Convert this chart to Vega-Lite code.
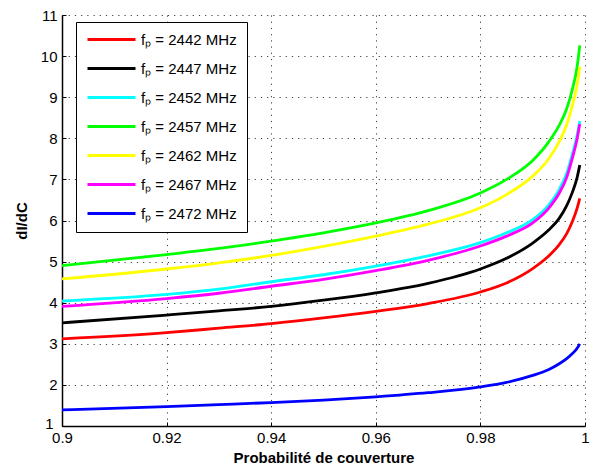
{
  "$schema": "https://vega.github.io/schema/vega-lite/v6.json",
  "width": 523,
  "height": 411,
  "autosize": "none",
  "padding": {"left": 62, "top": 15, "right": 10, "bottom": 44},
  "background": "white",
  "config": {
    "view": {"stroke": null},
    "font": "Liberation Sans"
  },
  "datasets": {
    "curves": [
      {"p": 0.9, "v": 3.12, "s": "fₚ = 2442 MHz"},
      {"p": 0.92, "v": 3.27, "s": "fₚ = 2442 MHz"},
      {"p": 0.93, "v": 3.38, "s": "fₚ = 2442 MHz"},
      {"p": 0.94, "v": 3.49, "s": "fₚ = 2442 MHz"},
      {"p": 0.95, "v": 3.63, "s": "fₚ = 2442 MHz"},
      {"p": 0.96, "v": 3.79, "s": "fₚ = 2442 MHz"},
      {"p": 0.97, "v": 3.98, "s": "fₚ = 2442 MHz"},
      {"p": 0.98, "v": 4.26, "s": "fₚ = 2442 MHz"},
      {"p": 0.985, "v": 4.48, "s": "fₚ = 2442 MHz"},
      {"p": 0.99, "v": 4.83, "s": "fₚ = 2442 MHz"},
      {"p": 0.993, "v": 5.13, "s": "fₚ = 2442 MHz"},
      {"p": 0.995, "v": 5.40, "s": "fₚ = 2442 MHz"},
      {"p": 0.9965, "v": 5.68, "s": "fₚ = 2442 MHz"},
      {"p": 0.9975, "v": 5.95, "s": "fₚ = 2442 MHz"},
      {"p": 0.9985, "v": 6.30, "s": "fₚ = 2442 MHz"},
      {"p": 0.999, "v": 6.54, "s": "fₚ = 2442 MHz"},

      {"p": 0.9, "v": 3.51, "s": "fₚ = 2447 MHz"},
      {"p": 0.92, "v": 3.70, "s": "fₚ = 2447 MHz"},
      {"p": 0.93, "v": 3.80, "s": "fₚ = 2447 MHz"},
      {"p": 0.94, "v": 3.91, "s": "fₚ = 2447 MHz"},
      {"p": 0.95, "v": 4.06, "s": "fₚ = 2447 MHz"},
      {"p": 0.96, "v": 4.24, "s": "fₚ = 2447 MHz"},
      {"p": 0.97, "v": 4.47, "s": "fₚ = 2447 MHz"},
      {"p": 0.98, "v": 4.82, "s": "fₚ = 2447 MHz"},
      {"p": 0.985, "v": 5.08, "s": "fₚ = 2447 MHz"},
      {"p": 0.99, "v": 5.45, "s": "fₚ = 2447 MHz"},
      {"p": 0.993, "v": 5.76, "s": "fₚ = 2447 MHz"},
      {"p": 0.995, "v": 6.04, "s": "fₚ = 2447 MHz"},
      {"p": 0.9965, "v": 6.36, "s": "fₚ = 2447 MHz"},
      {"p": 0.9975, "v": 6.66, "s": "fₚ = 2447 MHz"},
      {"p": 0.9985, "v": 7.05, "s": "fₚ = 2447 MHz"},
      {"p": 0.999, "v": 7.35, "s": "fₚ = 2447 MHz"},

      {"p": 0.9, "v": 4.04, "s": "fₚ = 2452 MHz"},
      {"p": 0.92, "v": 4.20, "s": "fₚ = 2452 MHz"},
      {"p": 0.93, "v": 4.33, "s": "fₚ = 2452 MHz"},
      {"p": 0.94, "v": 4.51, "s": "fₚ = 2452 MHz"},
      {"p": 0.95, "v": 4.68, "s": "fₚ = 2452 MHz"},
      {"p": 0.96, "v": 4.89, "s": "fₚ = 2452 MHz"},
      {"p": 0.97, "v": 5.14, "s": "fₚ = 2452 MHz"},
      {"p": 0.98, "v": 5.46, "s": "fₚ = 2452 MHz"},
      {"p": 0.985, "v": 5.70, "s": "fₚ = 2452 MHz"},
      {"p": 0.99, "v": 6.02, "s": "fₚ = 2452 MHz"},
      {"p": 0.993, "v": 6.37, "s": "fₚ = 2452 MHz"},
      {"p": 0.995, "v": 6.74, "s": "fₚ = 2452 MHz"},
      {"p": 0.9965, "v": 7.15, "s": "fₚ = 2452 MHz"},
      {"p": 0.9975, "v": 7.58, "s": "fₚ = 2452 MHz"},
      {"p": 0.9985, "v": 8.08, "s": "fₚ = 2452 MHz"},
      {"p": 0.999, "v": 8.42, "s": "fₚ = 2452 MHz"},

      {"p": 0.9, "v": 4.90, "s": "fₚ = 2457 MHz"},
      {"p": 0.92, "v": 5.17, "s": "fₚ = 2457 MHz"},
      {"p": 0.93, "v": 5.32, "s": "fₚ = 2457 MHz"},
      {"p": 0.94, "v": 5.50, "s": "fₚ = 2457 MHz"},
      {"p": 0.95, "v": 5.70, "s": "fₚ = 2457 MHz"},
      {"p": 0.96, "v": 5.94, "s": "fₚ = 2457 MHz"},
      {"p": 0.97, "v": 6.24, "s": "fₚ = 2457 MHz"},
      {"p": 0.98, "v": 6.67, "s": "fₚ = 2457 MHz"},
      {"p": 0.985, "v": 7.00, "s": "fₚ = 2457 MHz"},
      {"p": 0.99, "v": 7.46, "s": "fₚ = 2457 MHz"},
      {"p": 0.993, "v": 7.90, "s": "fₚ = 2457 MHz"},
      {"p": 0.995, "v": 8.30, "s": "fₚ = 2457 MHz"},
      {"p": 0.9965, "v": 8.72, "s": "fₚ = 2457 MHz"},
      {"p": 0.9975, "v": 9.15, "s": "fₚ = 2457 MHz"},
      {"p": 0.9985, "v": 9.75, "s": "fₚ = 2457 MHz"},
      {"p": 0.999, "v": 10.26, "s": "fₚ = 2457 MHz"},

      {"p": 0.9, "v": 4.58, "s": "fₚ = 2462 MHz"},
      {"p": 0.92, "v": 4.82, "s": "fₚ = 2462 MHz"},
      {"p": 0.93, "v": 4.97, "s": "fₚ = 2462 MHz"},
      {"p": 0.94, "v": 5.15, "s": "fₚ = 2462 MHz"},
      {"p": 0.95, "v": 5.37, "s": "fₚ = 2462 MHz"},
      {"p": 0.96, "v": 5.62, "s": "fₚ = 2462 MHz"},
      {"p": 0.97, "v": 5.91, "s": "fₚ = 2462 MHz"},
      {"p": 0.98, "v": 6.31, "s": "fₚ = 2462 MHz"},
      {"p": 0.985, "v": 6.63, "s": "fₚ = 2462 MHz"},
      {"p": 0.99, "v": 7.08, "s": "fₚ = 2462 MHz"},
      {"p": 0.993, "v": 7.49, "s": "fₚ = 2462 MHz"},
      {"p": 0.995, "v": 7.90, "s": "fₚ = 2462 MHz"},
      {"p": 0.9965, "v": 8.33, "s": "fₚ = 2462 MHz"},
      {"p": 0.9975, "v": 8.76, "s": "fₚ = 2462 MHz"},
      {"p": 0.9985, "v": 9.30, "s": "fₚ = 2462 MHz"},
      {"p": 0.999, "v": 9.74, "s": "fₚ = 2462 MHz"},

      {"p": 0.9, "v": 3.91, "s": "fₚ = 2467 MHz"},
      {"p": 0.92, "v": 4.10, "s": "fₚ = 2467 MHz"},
      {"p": 0.93, "v": 4.23, "s": "fₚ = 2467 MHz"},
      {"p": 0.94, "v": 4.40, "s": "fₚ = 2467 MHz"},
      {"p": 0.95, "v": 4.57, "s": "fₚ = 2467 MHz"},
      {"p": 0.96, "v": 4.78, "s": "fₚ = 2467 MHz"},
      {"p": 0.97, "v": 5.03, "s": "fₚ = 2467 MHz"},
      {"p": 0.98, "v": 5.38, "s": "fₚ = 2467 MHz"},
      {"p": 0.985, "v": 5.62, "s": "fₚ = 2467 MHz"},
      {"p": 0.99, "v": 5.94, "s": "fₚ = 2467 MHz"},
      {"p": 0.993, "v": 6.29, "s": "fₚ = 2467 MHz"},
      {"p": 0.995, "v": 6.65, "s": "fₚ = 2467 MHz"},
      {"p": 0.9965, "v": 7.05, "s": "fₚ = 2467 MHz"},
      {"p": 0.9975, "v": 7.48, "s": "fₚ = 2467 MHz"},
      {"p": 0.9985, "v": 7.99, "s": "fₚ = 2467 MHz"},
      {"p": 0.999, "v": 8.35, "s": "fₚ = 2467 MHz"},

      {"p": 0.9, "v": 1.39, "s": "fₚ = 2472 MHz"},
      {"p": 0.92, "v": 1.47, "s": "fₚ = 2472 MHz"},
      {"p": 0.93, "v": 1.52, "s": "fₚ = 2472 MHz"},
      {"p": 0.94, "v": 1.57, "s": "fₚ = 2472 MHz"},
      {"p": 0.95, "v": 1.63, "s": "fₚ = 2472 MHz"},
      {"p": 0.96, "v": 1.71, "s": "fₚ = 2472 MHz"},
      {"p": 0.97, "v": 1.81, "s": "fₚ = 2472 MHz"},
      {"p": 0.98, "v": 1.95, "s": "fₚ = 2472 MHz"},
      {"p": 0.985, "v": 2.06, "s": "fₚ = 2472 MHz"},
      {"p": 0.99, "v": 2.23, "s": "fₚ = 2472 MHz"},
      {"p": 0.993, "v": 2.37, "s": "fₚ = 2472 MHz"},
      {"p": 0.995, "v": 2.51, "s": "fₚ = 2472 MHz"},
      {"p": 0.9965, "v": 2.64, "s": "fₚ = 2472 MHz"},
      {"p": 0.9975, "v": 2.75, "s": "fₚ = 2472 MHz"},
      {"p": 0.9985, "v": 2.89, "s": "fₚ = 2472 MHz"},
      {"p": 0.999, "v": 3.00, "s": "fₚ = 2472 MHz"}
    ]
  },
  "data": {"name": "curves"},
  "mark": {"type": "line", "strokeWidth": 2.8, "interpolate": "monotone", "clip": true},
  "encoding": {
    "x": {
      "field": "p",
      "type": "quantitative",
      "scale": {"domain": [0.9, 1.0], "nice": false, "zero": false},
      "axis": {
        "title": "Probabilité de couverture",
        "titleFont": "Liberation Sans",
        "titleFontSize": 15,
        "titleFontWeight": "bold",
        "titleColor": "black",
        "titlePadding": 5,
        "values": [0.9, 0.92, 0.94, 0.96, 0.98, 1.0],
        "format": "~g",
        "labelFont": "Liberation Sans",
        "labelFontSize": 15,
        "labelColor": "black",
        "labelPadding": 8,
        "labelFlush": false,
        "tickSize": -4,
        "tickColor": "black",
        "domainColor": "black",
        "domainWidth": 1.5,
        "grid": true,
        "gridColor": "black",
        "gridDash": [1.2, 5],
        "gridOpacity": 0.75
      }
    },
    "y": {
      "field": "v",
      "type": "quantitative",
      "scale": {"domain": [1, 11], "nice": false, "zero": false},
      "axis": {
        "title": "dI/dC",
        "titleFont": "Liberation Sans",
        "titleFontSize": 15,
        "titleFontWeight": "bold",
        "titleColor": "black",
        "titlePadding": 11,
        "values": [1, 2, 3, 4, 5, 6, 7, 8, 9, 10, 11],
        "format": "d",
        "labelFont": "Liberation Sans",
        "labelFontSize": 15,
        "labelColor": "black",
        "labelPadding": {"condition": {"test": "datum.value == 1", "value": 13}, "value": 9},
        "labelOffset": {"condition": {"test": "datum.value == 1", "value": -3}, "value": 0},
        "labelFlush": false,
        "tickSize": -4,
        "tickColor": "black",
        "domainColor": "black",
        "domainWidth": 1.5,
        "grid": true,
        "gridColor": "black",
        "gridDash": [1.2, 5],
        "gridOpacity": 0.75
      }
    },
    "color": {
      "field": "s",
      "type": "nominal",
      "sort": ["fₚ = 2442 MHz", "fₚ = 2447 MHz", "fₚ = 2452 MHz", "fₚ = 2457 MHz", "fₚ = 2462 MHz", "fₚ = 2467 MHz", "fₚ = 2472 MHz"],
      "scale": {
        "domain": ["fₚ = 2442 MHz", "fₚ = 2447 MHz", "fₚ = 2452 MHz", "fₚ = 2457 MHz", "fₚ = 2462 MHz", "fₚ = 2467 MHz", "fₚ = 2472 MHz"],
        "range": ["#ff0000", "#000000", "#00ffff", "#00ff00", "#ffff00", "#ff00ff", "#0000ff"]
      },
      "legend": {
        "title": null,
        "orient": "none",
        "legendX": 14,
        "legendY": 7,
        "symbolType": "M-4,0H4",
        "symbolSize": 144,
        "symbolStrokeWidth": 3,
        "symbolOffset": 18,
        "labelFont": "Liberation Sans",
        "labelFontSize": 15,
        "labelColor": "black",
        "labelOffset": 22,
        "rowPadding": 13,
        "padding": 10,
        "strokeColor": "black",
        "fillColor": "white",
        "labelLimit": 300
      }
    }
  }
}
